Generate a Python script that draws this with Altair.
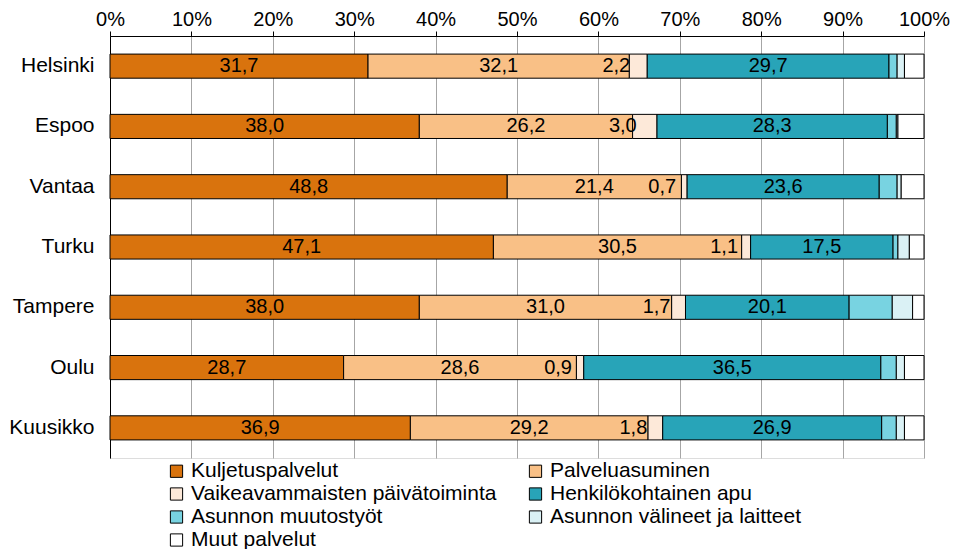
import altair as alt
import pandas as pd

cities = ["Helsinki", "Espoo", "Vantaa", "Turku", "Tampere", "Oulu", "Kuusikko"]
series = [
    "Kuljetuspalvelut",
    "Palveluasuminen",
    "Vaikeavammaisten päivätoiminta",
    "Henkilökohtainen apu",
    "Asunnon muutostyöt",
    "Asunnon välineet ja laitteet",
    "Muut palvelut",
]
colors = ["#D9730D", "#F9C086", "#FDE9D9", "#28A4B8", "#78D3E1", "#DAF1F5", "#FFFFFF"]

kuljetus = [31.7, 38.0, 48.8, 47.1, 38.0, 28.7, 36.9]
palveluasuminen = [32.1, 26.2, 21.4, 30.5, 31.0, 28.6, 29.2]
paivatoiminta = [2.2, 3.0, 0.7, 1.1, 1.7, 0.9, 1.8]
henkilokohtainen = [29.7, 28.3, 23.6, 17.5, 20.1, 36.5, 26.9]
muutostyot = [1.0, 1.1, 2.2, 0.6, 5.3, 1.9, 1.8]
valineet = [0.9, 0.2, 0.5, 1.4, 2.5, 1.0, 1.0]
muut = [2.4, 3.2, 2.8, 1.8, 1.4, 2.4, 2.4]
labelled = [True, True, True, True, False, False, False]

x_ticks = [0, 10, 20, 30, 40, 50, 60, 70, 80, 90, 100]

values = [kuljetus, palveluasuminen, paivatoiminta, henkilokohtainen, muutostyot, valineet, muut]

rows = []
for ci, city in enumerate(cities):
    cum = 0.0
    for si, s in enumerate(series):
        v = values[si][ci]
        rows.append({
            "city": city,
            "series": s,
            "idx": si,
            "value": v,
            "start": cum,
            "end": cum + v,
            "mid": cum + v / 2,
            "label": f"{v:.1f}".replace(".", ",") if labelled[si] else "",
        })
        cum += v
df = pd.DataFrame(rows)

FONT = "Liberation Sans"

y_enc = alt.Y(
    "city:N",
    sort=cities,
    scale=alt.Scale(paddingInner=0.6, paddingOuter=0.3),
    axis=alt.Axis(
        title=None, ticks=False, labelPadding=16, labelFontSize=21,
        labelColor="black", domainColor="black", labelFont=FONT,
    ),
)

x_scale = alt.Scale(domain=[0, 100], nice=False)

bars = alt.Chart(df).mark_bar(stroke="black", strokeWidth=1).encode(
    x=alt.X(
        "start:Q",
        scale=x_scale,
        axis=alt.Axis(
            orient="top", title=None, values=x_ticks, labelExpr="datum.value + '%'",
            grid=True, gridColor="#A6A6A6", gridWidth=1,
            tickColor="black", tickSize=5, domainColor="black",
            labelFontSize=20, labelColor="black", labelPadding=2, labelFont=FONT,
            labelFlush=False,
        ),
    ),
    x2="end:Q",
    y=y_enc,
    color=alt.Color(
        "series:N",
        scale=alt.Scale(domain=series, range=colors),
        sort=series,
        legend=alt.Legend(
            title=None, orient="none", legendX=56, legendY=424.5, columns=2,
            direction="horizontal", symbolType="square", symbolSize=150,
            symbolStrokeColor="black", symbolStrokeWidth=1,
            labelFontSize=21, labelFont=FONT, labelColor="black", labelOffset=4,
            rowPadding=1, columnPadding=28, labelLimit=600, padding=0,
        ),
    ),
    order=alt.Order("idx:Q"),
)

labels_center = alt.Chart(df).transform_filter(
    "datum.label != '' && datum.idx != 2"
).mark_text(fontSize=20, font=FONT, color="black", baseline="middle").encode(
    x=alt.X("mid:Q", scale=x_scale),
    y=alt.Y("city:N", sort=cities),
    text="label:N",
)

labels_small = alt.Chart(df).transform_filter(
    "datum.idx == 2"
).mark_text(fontSize=20, font=FONT, color="black", baseline="middle", dx=-22).encode(
    x=alt.X("mid:Q", scale=x_scale),
    y=alt.Y("city:N", sort=cities),
    text="label:N",
)

chart = alt.layer(bars, labels_center, labels_small).properties(
    width=814,
    height=422,
    autosize=alt.AutoSizeParams(type="none"),
    padding={"left": 102, "top": 28, "right": 26, "bottom": 91},
).configure_view(
    stroke="black", strokeWidth=1
).configure(font=FONT)

chart.save("out.html", embed_options={"renderer": "svg", "actions": False})
